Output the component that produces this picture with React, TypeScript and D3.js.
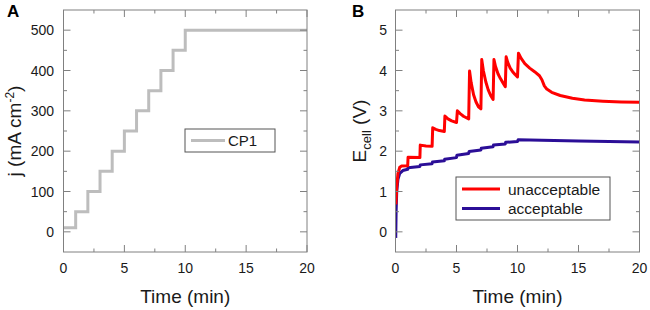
import React from "react";
import * as d3 from "d3";

// Panel A: current density steps
const cpTimes = [0, 1, 2, 3, 4, 5, 6, 7, 8, 9, 10, 20];
const cpValues = [10, 50, 100, 150, 200, 250, 300, 350, 400, 450, 500, 500];

// Panel B: cell voltage, unacceptable (red)
const redTimes = [0.03, 0.1, 0.2, 0.35, 0.5, 1.0, 1.03, 2.0, 2.03, 2.5, 3.0, 3.05, 3.3, 3.6, 4.0, 4.05, 4.3, 4.6, 5.0, 5.07, 5.3, 5.6, 6.0, 6.07, 6.2, 6.4, 6.6, 6.8, 7.0, 7.07, 7.2, 7.4, 7.6, 7.8, 8.0, 8.07, 8.2, 8.4, 8.6, 8.8, 9.0, 9.07, 9.2, 9.4, 9.6, 9.8, 10.0, 10.08, 10.3, 10.6, 11.0, 11.4, 11.8, 12.0, 12.2, 12.4, 12.8, 13.5, 14.5, 15.5, 17, 18.5, 20];
const redValues = [0.68, 1.1, 1.45, 1.6, 1.63, 1.64, 1.85, 1.84, 2.15, 2.13, 2.12, 2.58, 2.54, 2.51, 2.49, 2.87, 2.8, 2.75, 2.71, 3.0, 2.93, 2.86, 2.8, 3.99, 3.7, 3.4, 3.22, 3.1, 3.05, 4.27, 4.0, 3.72, 3.52, 3.38, 3.28, 4.27, 4.1, 3.92, 3.8, 3.7, 3.6, 4.34, 4.2, 4.06, 3.97, 3.9, 3.84, 4.43, 4.3, 4.17, 4.06, 3.97, 3.87, 3.77, 3.62, 3.54, 3.46, 3.38, 3.31, 3.27, 3.24, 3.22, 3.21];

// Panel B: cell voltage, acceptable (blue)
const blueTimes = [0.02, 0.05, 0.1, 0.2, 0.35, 0.6, 1.0, 1.03, 2.0, 2.03, 3.0, 3.03, 4.0, 4.03, 5.0, 5.03, 6.0, 6.03, 7.0, 7.03, 8.0, 8.03, 9.0, 9.03, 10.0, 10.05, 12, 15, 20];
const blueValues = [-0.15, 0.5, 1.0, 1.3, 1.45, 1.52, 1.55, 1.59, 1.62, 1.66, 1.69, 1.73, 1.76, 1.8, 1.84, 1.9, 1.94, 1.99, 2.03, 2.07, 2.11, 2.15, 2.18, 2.22, 2.24, 2.28, 2.27, 2.25, 2.23];

const xMajor = [0, 5, 10, 15, 20];
const xMinor = [2.5, 7.5, 12.5, 17.5];
const aYMajor = [0, 100, 200, 300, 400, 500];
const aYMinor = [50, 150, 250, 350, 450];
const bYMajor = [0, 1, 2, 3, 4, 5];
const bYMinor = [0.5, 1.5, 2.5, 3.5, 4.5];

const FONT = "'Liberation Sans', Arial, sans-serif";
const AXC = "#808080";
const TXT = "#1a1a1a";

type PanelProps = {
  x0: number; x1: number; y0: number; y1: number;
  yDomain: [number, number];
  yMajor: number[]; yMinor: number[];
  labelGap: number;
  children: (x: d3.ScaleLinear<number, number>, y: d3.ScaleLinear<number, number>) => React.ReactNode;
  id: string;
};

function Panel({ x0, x1, y0, y1, yDomain, yMajor, yMinor, labelGap, children, id }: PanelProps) {
  const x = d3.scaleLinear().domain([0, 20]).range([x0, x1]);
  const y = d3.scaleLinear().domain(yDomain).range([y1, y0]);
  const maj = 7, min = 3.5;
  return (
    <g>
      <defs>
        <clipPath id={id}>
          <rect x={x0} y={y0} width={x1 - x0} height={y1 - y0} />
        </clipPath>
      </defs>
      <g clipPath={`url(#${id})`}>{children(x, y)}</g>
      <rect x={x0} y={y0} width={x1 - x0} height={y1 - y0} fill="none" stroke={AXC} strokeWidth={1} />
      {xMajor.map((t) => (
        <g key={"xm" + t}>
          <line x1={x(t)} x2={x(t)} y1={y1} y2={y1 - maj} stroke={AXC} />
          <line x1={x(t)} x2={x(t)} y1={y0} y2={y0 + maj} stroke={AXC} />
          <text x={x(t)} y={y1 + 20.5} textAnchor="middle" fontSize={14} fill={TXT} fontFamily={FONT}>{t}</text>
        </g>
      ))}
      {xMinor.map((t) => (
        <g key={"xn" + t}>
          <line x1={x(t)} x2={x(t)} y1={y1} y2={y1 - min} stroke={AXC} />
          <line x1={x(t)} x2={x(t)} y1={y0} y2={y0 + min} stroke={AXC} />
        </g>
      ))}
      {yMajor.map((v) => (
        <g key={"ym" + v}>
          <line x1={x0} x2={x0 + maj} y1={y(v)} y2={y(v)} stroke={AXC} />
          <line x1={x1} x2={x1 - maj} y1={y(v)} y2={y(v)} stroke={AXC} />
          <text x={x0 - labelGap} y={y(v) + 5} textAnchor="end" fontSize={14} fill={TXT} fontFamily={FONT}>{v}</text>
        </g>
      ))}
      {yMinor.map((v) => (
        <g key={"yn" + v}>
          <line x1={x0} x2={x0 + min} y1={y(v)} y2={y(v)} stroke={AXC} />
          <line x1={x1} x2={x1 - min} y1={y(v)} y2={y(v)} stroke={AXC} />
        </g>
      ))}
      <text x={(x0 + x1) / 2} y={303} textAnchor="middle" fontSize={19} fill={TXT} fontFamily={FONT}>Time (min)</text>
    </g>
  );
}

export default function App() {
  const lineA = (x: any, y: any) =>
    d3.line<number>().x((_, i) => x(cpTimes[i])).y((d) => y(d)).curve(d3.curveStepAfter)(cpValues) || "";
  const mkLine = (x: any, y: any, ts: number[], vs: number[]) =>
    d3.line<number>().x((_, i) => x(ts[i])).y((d) => y(d))(vs) || "";

  return (
    <svg width={650} height={310} style={{ position: "absolute", left: 0, top: 0, background: "#fff" }}>
      <rect x={0} y={0} width={650} height={310} fill="#fff" />
      {/* Panel A */}
      <Panel id="clipA" x0={63.5} x1={307} y0={10} y1={252} yDomain={[-50, 550]} yMajor={aYMajor} yMinor={aYMinor} labelGap={9.5}>
        {(x, y) => (
          <path d={lineA(x, y)} fill="none" stroke="#bdbdbd" strokeWidth={3} />
        )}
      </Panel>
      <text x={7} y={17} fontSize={17} fontWeight="bold" fill="#000" fontFamily={FONT}>A</text>
      <text transform="translate(21,131) rotate(-90)" textAnchor="middle" fontSize={19} fill={TXT} fontFamily={FONT}>
        j (mA cm<tspan dy={-7} fontSize={12}>-2</tspan><tspan dy={7}>)</tspan>
      </text>
      <rect x={185} y={129} width={90} height={23} fill="#fff" stroke="#555" strokeWidth={1} />
      <line x1={191} x2={225} y1={140.5} y2={140.5} stroke="#bdbdbd" strokeWidth={3} />
      <text x={228} y={146} fontSize={15} fill={TXT} fontFamily={FONT}>CP1</text>

      {/* Panel B */}
      <Panel id="clipB" x0={395.5} x1={639.5} y0={10} y1={252} yDomain={[-0.5, 5.5]} yMajor={bYMajor} yMinor={bYMinor} labelGap={8.5}>
        {(x, y) => (
          <g>
            <path d={mkLine(x, y, blueTimes, blueValues)} fill="none" stroke="#2b0e97" strokeWidth={3} strokeLinejoin="round" />
            <path d={mkLine(x, y, redTimes, redValues)} fill="none" stroke="#ff0000" strokeWidth={3} strokeLinejoin="round" />
          </g>
        )}
      </Panel>
      <text x={352} y={17} fontSize={17} fontWeight="bold" fill="#000" fontFamily={FONT}>B</text>
      <text transform="translate(366,131) rotate(-90)" textAnchor="middle" fontSize={19} fill={TXT} fontFamily={FONT}>
        E<tspan dy={5} fontSize={13}>cell</tspan><tspan dy={-5}> (V)</tspan>
      </text>
      <rect x={456} y={177} width={154} height={43} fill="#fff" stroke="#555" strokeWidth={1} />
      <line x1={462} x2={500} y1={189} y2={189} stroke="#ff0000" strokeWidth={3} />
      <line x1={462} x2={500} y1={208.5} y2={208.5} stroke="#2b0e97" strokeWidth={3} />
      <text x={508} y={194.5} fontSize={15.5} fill={TXT} fontFamily={FONT}>unacceptable</text>
      <text x={508} y={214} fontSize={15.5} fill={TXT} fontFamily={FONT}>acceptable</text>
    </svg>
  );
}
